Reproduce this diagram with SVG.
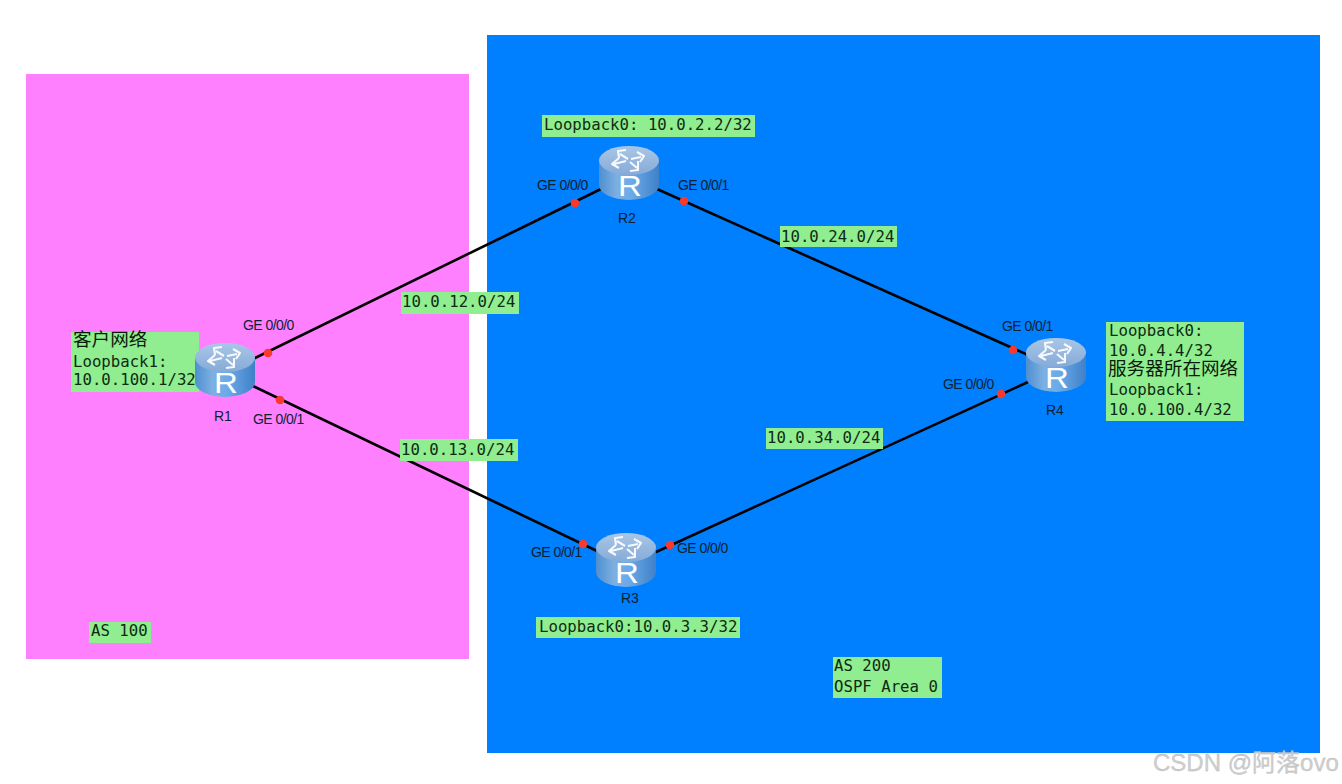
<svg xmlns="http://www.w3.org/2000/svg" width="1342" height="784" viewBox="0 0 1342 784">
<style>
.box{fill:#90ee90}
.m{font-family:"DejaVu Sans Mono","Liberation Mono",monospace;font-size:15.7px;fill:#0f2a12}
.c{font-family:"Noto Sans CJK SC","Liberation Sans",sans-serif;font-size:18.6px;fill:#0a1a0a}
.l{font-family:"Liberation Sans",Arial,sans-serif;font-size:14px;letter-spacing:-.55px;fill:#0c1f33}
.n{font-family:"Liberation Sans",Arial,sans-serif;font-size:14px;fill:#0c1f33}
.link{stroke:#000;stroke-width:2.600;fill:none;stroke-linecap:round}
.dot{fill:#f93a2a}
.wm{font-family:"Liberation Sans","Noto Sans CJK SC",sans-serif;font-size:24px;fill:#cfcfcf;stroke:#b5b5b5;stroke-width:.3}
</style>
<defs>
<linearGradient id="body" x1="0" x2="1" y1="0" y2="0">
<stop offset="0" stop-color="#4f8fd0"/><stop offset=".3" stop-color="#7db0e2"/><stop offset=".55" stop-color="#6aaae8"/><stop offset="1" stop-color="#3f80c8"/>
</linearGradient>
<linearGradient id="top" x1="0" x2="0" y1="0" y2="1">
<stop offset="0" stop-color="#a9c6e6"/><stop offset="1" stop-color="#85abd8"/>
</linearGradient>
<g id="router">
<path d="M0 15V39A30 15 0 0 0 60 39V15Z" fill="url(#body)"/>
<ellipse cx="30" cy="14.500" rx="30" ry="14.500" fill="url(#top)"/>
<g fill="none" stroke="#fff" stroke-width="2.100" opacity=".92" stroke-linejoin="round">
<path d="M29 13L21 8M20 12L19 5L27 4"/>
<path d="M32 13L42 11M38 6L45 10L41 16"/>
<path d="M31 16L38 22M39 15L39 24L31 25"/>
<path d="M27 15L15 18M20 12L13 18L20 22"/>
</g>
<text transform="translate(31,50) scale(1.1,1)" text-anchor="middle" font-family="Liberation Sans,Arial,sans-serif" font-size="30" fill="#fff">R</text>
</g>
</defs>
<rect width="1342" height="784" fill="#fff"/>
<g id="areas">
<rect id="as100" x="26" y="74" width="443" height="585" fill="#ff80ff"/>
<rect id="as200" x="487" y="35" width="833" height="718" fill="#0080ff"/>
</g>
<g id="connectors">
<path class="link" d="M253 359L601 189"/>
<path class="link" d="M253 386L597 551"/>
<path class="link" d="M657 189L1028 355"/>
<path class="link" d="M656 552L1028 382"/>
<circle class="dot" cx="268" cy="353" r="4.300"/><circle class="dot" cx="280" cy="400" r="4.300"/>
<circle class="dot" cx="575" cy="203" r="4.300"/><circle class="dot" cx="684" cy="201" r="4.300"/>
<circle class="dot" cx="583" cy="544" r="4.300"/><circle class="dot" cx="670" cy="545" r="4.300"/>
<circle class="dot" cx="1013" cy="350" r="4.300"/><circle class="dot" cx="1001" cy="394" r="4.300"/>
</g>
<g id="subnets">
<g id="net12"><rect class="box" x="401" y="292" width="118" height="22"/><text class="m" x="402" y="307">10.0.12.0/24</text></g>
<g id="net13"><rect class="box" x="400" y="439" width="118" height="22"/><text class="m" x="401" y="455">10.0.13.0/24</text></g>
<g id="net24"><rect class="box" x="780" y="226" width="117" height="21"/><text class="m" x="781" y="242">10.0.24.0/24</text></g>
<g id="net34"><rect class="box" x="766" y="428" width="117" height="21"/><text class="m" x="767" y="443">10.0.34.0/24</text></g>
</g>
<g id="r1note"><rect class="box" x="71" y="332" width="128" height="60"/>
<text class="c" x="73" y="346">客户网络</text>
<text class="m" x="73" y="367">Loopback1:</text><text class="m" x="73" y="385">10.0.100.1/32</text></g>
<g id="r2note"><rect class="box" x="542" y="115" width="213" height="22"/><text class="m" x="544" y="130">Loopback0: 10.0.2.2/32</text></g>
<g id="r3note"><rect class="box" x="536" y="617" width="204" height="21"/><text class="m" x="539" y="632">Loopback0:10.0.3.3/32</text></g>
<g id="r4note"><rect class="box" x="1106" y="322" width="138" height="99"/>
<text class="m" x="1109" y="336">Loopback0:</text><text class="m" x="1109" y="356">10.0.4.4/32</text>
<text class="c" x="1108" y="375">服务器所在网络</text>
<text class="m" x="1109" y="395">Loopback1:</text><text class="m" x="1109" y="415">10.0.100.4/32</text></g>
<g id="as100label"><rect class="box" x="89" y="622" width="62" height="21"/><text class="m" x="91" y="636">AS 100</text></g>
<g id="as200label"><rect class="box" x="833" y="657" width="109" height="41"/><text class="m" x="834" y="671">AS 200</text><text class="m" x="834" y="692">OSPF Area 0</text></g>
<g id="R1"><use href="#router" x="195" y="343"/><text class="n" x="214" y="421">R1</text>
<text class="l" x="243" y="330">GE 0/0/0</text><text class="l" x="253" y="424">GE 0/0/1</text></g>
<g id="R2"><use href="#router" x="599" y="146"/><text class="n" x="618" y="223">R2</text>
<text class="l" x="537" y="190">GE 0/0/0</text><text class="l" x="678" y="190">GE 0/0/1</text></g>
<g id="R3"><use href="#router" x="596" y="533"/><text class="n" x="621" y="603">R3</text>
<text class="l" x="531" y="557">GE 0/0/1</text><text class="l" x="677" y="553">GE 0/0/0</text></g>
<g id="R4"><use href="#router" x="1026" y="338"/><text class="n" x="1046" y="415">R4</text>
<text class="l" x="1002" y="331">GE 0/0/1</text><text class="l" x="943" y="389">GE 0/0/0</text></g>
<text class="wm" x="1153" y="771">CSDN @阿落ovo</text>
</svg>
